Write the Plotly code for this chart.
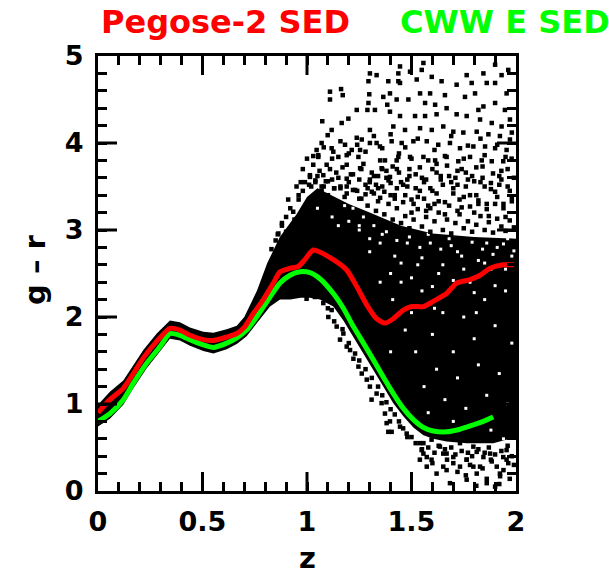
import plotly.graph_objects as go

# ---- model curves (z, g-r) ----
red_z = [0.0, 0.057, 0.121, 0.169, 0.217, 0.281, 0.344, 0.392, 0.44, 0.504, 0.552, 0.616, 0.664, 0.703,
         0.743, 0.791, 0.839, 0.871, 0.919, 0.958, 0.99, 1.03, 1.126, 1.19, 1.238, 1.286, 1.333, 1.373,
         1.413, 1.461, 1.501, 1.557, 1.604, 1.668, 1.716, 1.78, 1.828, 1.876, 1.939, 1.99]
red_gr = [0.90, 1.05, 1.18, 1.35, 1.53, 1.72, 1.87, 1.85, 1.79, 1.74, 1.73, 1.77, 1.81, 1.89,
          2.04, 2.20, 2.39, 2.52, 2.56, 2.58, 2.66, 2.77, 2.66, 2.54, 2.35, 2.14, 1.98, 1.93,
          1.98, 2.08, 2.12, 2.12, 2.18, 2.27, 2.39, 2.43, 2.48, 2.56, 2.60, 2.60]

green_z = [0.0, 0.057, 0.121, 0.169, 0.233, 0.297, 0.344, 0.392, 0.44, 0.504, 0.552, 0.616, 0.664, 0.711,
           0.759, 0.823, 0.871, 0.919, 0.967, 1.014, 1.062, 1.126, 1.174, 1.222, 1.27, 1.317, 1.365,
           1.413, 1.461, 1.509, 1.557, 1.604, 1.668, 1.732, 1.796, 1.844, 1.891]
green_gr = [0.80, 0.89, 1.05, 1.24, 1.47, 1.66, 1.81, 1.79, 1.74, 1.68, 1.65, 1.70, 1.76, 1.85,
            2.00, 2.23, 2.39, 2.48, 2.52, 2.51, 2.44, 2.27, 2.10, 1.89, 1.70, 1.51, 1.31,
            1.12, 0.95, 0.82, 0.73, 0.69, 0.68, 0.71, 0.76, 0.80, 0.85]

# ---- dense core of the galaxy cloud: upper and lower envelopes ----
core_up_z = [0.0, 0.057, 0.121, 0.169, 0.217, 0.281, 0.344, 0.392, 0.44, 0.504, 0.552, 0.616, 0.664,
             0.70, 0.76, 0.81, 0.87, 0.95, 1.0, 1.05, 1.1, 1.2, 1.3, 1.45, 1.6, 1.8, 2.0]
core_up_gr = [0.99, 1.14, 1.27, 1.44, 1.62, 1.81, 1.96, 1.94, 1.88, 1.83, 1.82, 1.86, 1.90,
              2.0, 2.3, 2.62, 2.92, 3.18, 3.38, 3.48, 3.42, 3.3, 3.2, 3.05, 2.96, 2.92, 2.9]
core_lo_z = [0.0, 0.057, 0.121, 0.169, 0.233, 0.297, 0.344, 0.392, 0.44, 0.504, 0.552, 0.616, 0.664,
             0.711, 0.759, 0.823, 0.871, 0.92, 0.97, 1.014, 1.062, 1.126, 1.174, 1.222, 1.27, 1.317,
             1.365, 1.413, 1.461, 1.509, 1.557, 1.604, 1.668, 1.764, 1.891, 2.0]
core_lo_gr = [0.74, 0.83, 0.99, 1.18, 1.41, 1.60, 1.75, 1.73, 1.67, 1.61, 1.58, 1.63, 1.69,
              1.78, 1.93, 2.12, 2.2, 2.2, 2.22, 2.22, 2.2, 2.12, 1.96, 1.77, 1.58, 1.39,
              1.2, 1.01, 0.86, 0.73, 0.64, 0.6, 0.57, 0.55, 0.55, 0.62]

# ---- individual galaxies outside the dense core ----
gal_z = [
    # upper sparse cloud, z 1.0 - 1.45
    1.110, 1.110, 1.163, 1.171, 1.298, 1.301, 1.333, 1.294, 1.389, 1.437, 1.365, 1.397, 1.294, 1.238,
    1.289, 1.325, 1.384, 1.397, 1.073, 1.166, 1.198, 1.301, 1.118, 1.099, 1.413, 1.070, 1.238, 1.262,
    1.301, 1.333, 1.349, 1.405, 1.046, 1.118, 1.126, 1.182, 1.214, 1.254, 1.054, 1.150, 1.190, 1.246,
    1.373, 1.429, 1.030, 1.094, 1.190, 1.254, 1.357, 1.014, 1.078, 1.190, 1.301, 1.397,
    # upper sparse cloud, z 1.43 - 2.0
    1.445, 1.437, 1.445, 1.493, 1.525, 1.557, 1.549, 1.597, 1.644, 1.541, 1.589, 1.660, 1.716, 1.764,
    1.788, 1.804, 1.844, 1.860, 1.900, 1.900, 1.931, 1.963, 1.955, 1.429, 1.485, 1.565, 1.613, 1.668,
    1.756, 1.820, 1.844, 1.900, 1.947, 1.971, 1.445, 1.517, 1.565, 1.620, 1.716, 1.764, 1.828, 1.884,
    1.931, 1.469, 1.541, 1.597, 1.652, 1.700, 1.748, 1.812, 1.868, 1.923, 1.971, 1.453, 1.509, 1.573,
    1.628, 1.684, 1.732, 1.796, 1.852, 1.900, 1.955, 1.437, 1.493, 1.557, 1.613, 1.668, 1.724, 1.780,
    1.836, 1.884, 1.939, 1.979,
    # transition band above the core
    1.43, 1.45, 1.47, 1.49, 1.51, 1.52, 1.54, 1.56, 1.57, 1.59, 1.60, 1.62, 1.63, 1.65, 1.67, 1.68,
    1.70, 1.71, 1.73, 1.74, 1.76, 1.78, 1.79, 1.81, 1.83, 1.84, 1.86, 1.88, 1.89, 1.91, 1.93, 1.94,
    1.96, 1.97, 1.99, 1.50, 1.58, 1.66, 1.75, 1.85, 1.95,
    1.04, 1.08, 1.12, 1.16, 1.20, 1.24, 1.28, 1.32, 1.36, 1.40, 1.14, 1.22, 1.34, 1.38, 1.26, 1.06,
    0.98, 0.96, 0.934, 0.90, 0.97, 1.014, 1.054, 0.863, 0.88,
    1.02, 1.05, 1.07, 1.09, 1.11, 1.13, 1.15, 1.17, 1.19, 1.21, 1.23, 1.25, 1.27, 1.29, 1.31, 1.33,
    1.35, 1.37, 1.39, 1.41, 1.43, 1.12, 1.20, 1.28, 1.36, 1.44, 1.03, 1.08, 1.16, 1.24, 1.32, 1.40,
    1.10, 1.18, 1.26, 1.34, 1.42,
    1.46, 1.48, 1.50, 1.53, 1.55, 1.57, 1.59, 1.61, 1.64, 1.66, 1.69, 1.72, 1.75, 1.77, 1.80, 1.82,
    1.85, 1.87, 1.90, 1.92, 1.95, 1.98, 1.47, 1.53, 1.61, 1.69, 1.77, 1.83, 1.91, 1.98, 1.49, 1.62,
    1.72, 1.81, 1.93,
    0.86, 0.88, 0.90, 0.92, 0.94, 0.96, 0.99, 0.91, 0.95, 0.98, 1.00, 0.83, 0.85,
    1.29, 1.31, 1.33, 1.35, 1.37, 1.39, 1.41, 1.43, 1.45, 1.47, 1.49, 1.51, 1.53, 1.55, 1.57, 1.59,
    1.61, 1.63, 1.65, 1.67, 1.69, 1.71, 1.73, 1.75, 1.77, 1.79, 1.81, 1.83, 1.85, 1.87, 1.89, 1.91,
    1.93, 1.95, 1.97, 1.99,
    1.30, 1.34, 1.38, 1.42, 1.46, 1.50, 1.54, 1.58, 1.62, 1.66, 1.70, 1.74, 1.78, 1.82, 1.86, 1.90,
    1.94, 1.98,
    1.32, 1.36, 1.40, 1.44, 1.48, 1.52, 1.56, 1.60, 1.64, 1.68, 1.72, 1.76, 1.80, 1.84, 1.88, 1.92,
    1.96,
    1.01, 1.04, 1.07, 1.10, 1.13, 1.16, 1.19, 1.22, 1.25, 1.28,
    # lower fringe
    0.998, 1.038, 1.078, 1.118, 1.102, 1.142, 1.174, 1.158, 1.206, 1.190, 1.222, 1.246, 1.262, 1.286,
    1.301, 1.333, 1.309, 1.357, 1.373, 1.397, 1.389, 1.445, 1.477, 1.541, 1.557, 1.596, 1.573, 1.652,
    1.700, 1.764, 1.828, 1.876, 1.923, 1.955, 1.668, 1.732, 1.796,
    1.381, 1.405, 1.549, 1.573, 1.596, 1.557, 1.636, 1.668, 1.700, 1.732, 1.764, 1.796, 1.812, 1.844,
    1.884, 1.908, 1.924, 1.955, 1.963, 1.764, 1.684, 1.860, 1.900, 1.939, 1.812, 1.732, 1.652,
    1.48, 1.52, 1.55, 1.58, 1.61, 1.63, 1.66, 1.69, 1.71, 1.74, 1.77, 1.79, 1.82, 1.85, 1.87, 1.90,
    1.93, 1.96, 1.98, 1.60, 1.67, 1.72, 1.78, 1.84, 1.88, 1.94, 1.99, 1.76, 1.86, 1.97, 1.62, 1.54,
    1.81, 1.92,
    1.10, 1.13, 1.17, 1.20, 1.23, 1.25, 1.28, 1.31, 1.34, 1.36, 1.38, 1.40, 1.42, 1.44, 1.46, 1.50,
]
gal_gr = [
    4.59, 4.50, 4.62, 4.55, 4.56, 4.80, 4.78, 4.71, 4.71, 4.71, 4.53, 4.57, 4.46, 4.38,
    4.38, 4.38, 4.44, 4.36, 4.25, 4.23, 4.28, 4.15, 4.15, 4.09, 4.19, 4.00, 4.06, 4.04,
    4.00, 4.00, 3.96, 4.02, 3.92, 3.94, 3.90, 3.98, 3.92, 3.92, 3.84, 3.84, 3.86, 3.84,
    3.80, 3.80, 3.75, 3.75, 3.75, 3.71, 3.71, 3.61, 3.63, 3.59, 3.58, 3.61,
    4.88, 4.80, 4.69, 4.82, 4.73, 4.92, 4.84, 4.76, 4.71, 4.57, 4.57, 4.55, 4.67, 4.78,
    4.69, 4.57, 4.80, 4.69, 4.69, 4.90, 4.78, 4.84, 4.57, 4.50, 4.50, 4.46, 4.44, 4.40,
    4.53, 4.38, 4.42, 4.46, 4.38, 4.27, 4.31, 4.31, 4.31, 4.33, 4.33, 4.31, 4.27, 4.23,
    4.19, 4.15, 4.17, 4.15, 4.19, 4.13, 4.12, 4.13, 4.10, 4.08, 4.04, 4.00, 4.02, 4.02,
    3.98, 4.00, 3.94, 3.96, 3.96, 3.94, 3.92, 3.84, 3.84, 3.84, 3.80, 3.84, 3.79, 3.84,
    3.80, 3.79, 3.79, 3.82,
    3.70, 3.55, 3.40, 3.62, 3.30, 3.48, 3.72, 3.36, 3.58, 3.25, 3.45, 3.66, 3.33, 3.52, 3.74, 3.28,
    3.42, 3.60, 3.35, 3.70, 3.50, 3.27, 3.62, 3.40, 3.55, 3.73, 3.30, 3.47, 3.65, 3.38, 3.58, 3.25,
    3.70, 3.45, 3.60, 3.82, 3.80, 3.85, 3.82, 3.86, 3.84,
    3.55, 3.50, 3.58, 3.48, 3.55, 3.45, 3.52, 3.42, 3.50, 3.40, 3.66, 3.64, 3.62, 3.68, 3.70, 3.68,
    3.45, 3.35, 3.21, 3.15, 3.55, 3.63, 3.86, 2.96, 3.05,
    3.50, 3.62, 3.45, 3.56, 3.70, 3.48, 3.60, 3.72, 3.50, 3.64, 3.46, 3.58, 3.76, 3.48, 3.66, 3.52,
    3.80, 3.44, 3.57, 3.73, 3.48, 3.82, 3.88, 3.90, 3.94, 3.88, 3.85, 3.95, 4.02, 3.98, 4.08, 4.10,
    3.40, 3.38, 3.36, 3.33, 3.36,
    3.32, 3.50, 3.20, 3.38, 3.60, 3.22, 3.48, 3.30, 3.62, 3.18, 3.55, 3.22, 3.38, 3.58, 3.20, 3.30,
    3.50, 3.16, 3.30, 3.52, 3.15, 3.33, 3.95, 4.05, 3.92, 4.08, 3.97, 4.05, 3.98, 4.12, 3.70, 3.76,
    3.68, 3.72, 3.68,
    2.95, 3.08, 2.98, 3.25, 3.12, 3.40, 3.55, 3.35, 3.50, 3.70, 3.82, 2.78, 2.88,
    3.28, 3.44, 3.22, 3.37, 3.18, 3.30, 3.12, 3.25, 3.08, 3.16, 3.02, 3.12, 3.24, 3.04, 3.15, 2.98,
    3.10, 3.20, 3.00, 3.12, 2.96, 3.08, 3.18, 3.02, 3.10, 2.98, 3.06, 3.16, 3.00, 3.09, 2.97, 3.13,
    3.04, 2.99, 3.11, 3.03,
    3.55, 3.48, 3.60, 3.40, 3.52, 3.35, 3.45, 3.28, 3.42, 3.32, 3.48, 3.26, 3.40, 3.34, 3.24, 3.44,
    3.30, 3.38,
    3.62, 3.70, 3.54, 3.66, 3.58, 3.64, 3.55, 3.70, 3.58, 3.62, 3.52, 3.66, 3.56, 3.60, 3.54, 3.62,
    3.50,
    3.52, 3.57, 3.50, 3.56, 3.48, 3.50, 3.42, 3.46, 3.36, 3.41,
    2.21, 2.23, 2.16, 2.08, 2.00, 1.89, 1.81, 1.74, 1.62, 1.66, 1.52, 1.43, 1.35, 1.28,
    1.20, 1.12, 1.05, 1.01, 0.89, 0.80, 0.68, 0.74, 0.66, 0.55, 0.43, 0.59, 0.28, 0.43,
    0.39, 0.36, 0.28, 0.43, 0.20, 0.36, 0.24, 0.59, 0.51,
    0.78, 0.68, 0.47, 0.39, 0.36, 0.55, 0.51, 0.43, 0.32, 0.55, 0.36, 0.28, 0.20, 0.39,
    0.34, 0.28, 0.17, 0.47, 0.32, 0.13, 0.09, 0.09, 0.05, 0.39, 0.45, 0.28, 0.28,
    0.62, 0.55, 0.48, 0.50, 0.44, 0.52, 0.48, 0.50, 0.42, 0.46, 0.44, 0.40, 0.48, 0.44, 0.50, 0.42,
    0.46, 0.52, 0.40, 0.32, 0.36, 0.22, 0.30, 0.26, 0.36, 0.24, 0.30, 0.18, 0.14, 0.14, 0.20, 0.36,
    0.06, 0.08,
    2.10, 1.95, 1.86, 1.70, 1.58, 1.50, 1.40, 1.30, 1.20, 1.10, 1.02, 0.94, 0.88, 0.80, 0.72, 0.62,
]

# ---- gaps (white specks) inside the dense core ----
gap_z = [1.30, 1.36, 1.42, 1.48, 1.53, 1.58, 1.63, 1.68, 1.72, 1.77, 1.82, 1.86, 1.91, 1.96, 1.45, 1.55,
         1.65, 1.75, 1.85, 1.95, 1.60, 1.70, 1.80, 1.90, 1.98, 1.62, 1.72, 1.82, 1.92, 1.66, 1.76, 1.86,
         1.96, 1.56, 1.52, 1.47, 1.40, 1.35, 1.25, 1.20, 1.15, 1.58, 1.88, 1.94, 1.70, 1.78, 1.68, 1.88,
         1.98, 1.50,
         1.22, 1.27, 1.32, 1.38, 1.43, 1.49, 1.54, 1.59, 1.64, 1.69, 1.74, 1.79, 1.84, 1.89, 1.94, 1.99,
         1.25, 1.35, 1.45, 1.55, 1.65, 1.75, 1.85, 1.95, 1.30, 1.40, 1.50, 1.60, 1.70, 1.80, 1.90, 1.41,
         1.61, 1.81, 1.05, 1.12, 1.18]
gap_gr = [2.90, 2.95, 2.70, 2.85, 2.60, 2.95, 2.50, 2.90, 2.75, 2.95, 2.65, 2.85, 2.80, 2.90, 2.40, 2.30,
          2.05, 2.00, 2.20, 2.30, 1.80, 1.60, 1.75, 1.90, 1.70, 1.40, 1.30, 1.45, 1.35, 1.05, 0.95, 1.10,
          1.00, 1.20, 1.60, 1.85, 1.60, 2.40, 3.00, 3.10, 3.05, 0.90, 0.70, 0.60, 0.80, 2.40, 2.30, 2.55,
          2.70, 2.05,
          3.25, 3.15, 3.05, 2.98, 2.88, 2.92, 2.80, 2.85, 2.78, 2.82, 2.70, 2.86, 2.78, 2.72, 2.84, 2.76,
          3.05, 2.85, 2.62, 2.68, 2.60, 2.55, 2.62, 2.55, 2.75, 2.50, 2.45, 2.35, 2.42, 2.28, 2.36, 2.20,
          2.10, 2.05, 3.25, 3.15, 3.28]

# ---- axis tick values ----
x_major = [0.5, 1.0, 1.5]
y_major = [1, 2, 3, 4]

FONT = "DejaVu Sans"
X_RANGE = [0, 2]
Y_RANGE = [0, 5]
MAJOR_LEN_X = 19 / 418   # fraction of plot width
MAJOR_LEN_Y = 19 / 435   # fraction of plot height

poly_z = core_up_z + core_lo_z[::-1]
poly_gr = core_up_gr + core_lo_gr[::-1]

fig = go.Figure()
fig.add_trace(go.Scatter(x=poly_z, y=poly_gr, mode="lines", fill="toself",
                         fillcolor="black", line=dict(width=0, color="black"),
                         hoverinfo="skip", showlegend=False))
fig.add_trace(go.Scatter(x=gap_z, y=gap_gr, mode="markers",
                         marker=dict(symbol="square", size=3, color="white", line=dict(width=0)),
                         showlegend=False))
fig.add_trace(go.Scatter(x=gal_z, y=gal_gr, mode="markers",
                         marker=dict(symbol="square", size=4.5, color="black", line=dict(width=0)),
                         showlegend=False))
fig.add_trace(go.Scatter(x=green_z, y=green_gr, mode="lines",
                         line=dict(color="#00ff00", width=5, shape="spline", smoothing=0.6),
                         showlegend=False))
fig.add_trace(go.Scatter(x=red_z, y=red_gr, mode="lines",
                         line=dict(color="#ff0000", width=5, shape="spline", smoothing=0.6),
                         showlegend=False))

TICKFONT = dict(family=FONT, size=27, color="black", weight="bold")
axis_common = dict(showgrid=False, zeroline=False, showline=True, linewidth=3, linecolor="black",
                   mirror="ticks", ticks="inside", tickwidth=3, tickcolor="black", ticklen=9,
                   showticklabels=True, tickfont=TICKFONT)

# long major tick marks drawn on all four sides, at the major tick values
tick_shapes = []
for v in x_major:
    tick_shapes.append(dict(type="line", xref="x", yref="paper", x0=v, x1=v, y0=0, y1=MAJOR_LEN_Y,
                            line=dict(color="black", width=3), layer="above"))
    tick_shapes.append(dict(type="line", xref="x", yref="paper", x0=v, x1=v, y0=1, y1=1 - MAJOR_LEN_Y,
                            line=dict(color="black", width=3), layer="above"))
for v in y_major:
    tick_shapes.append(dict(type="line", xref="paper", yref="y", x0=0, x1=MAJOR_LEN_X, y0=v, y1=v,
                            line=dict(color="black", width=3), layer="above"))
    tick_shapes.append(dict(type="line", xref="paper", yref="y", x0=1, x1=1 - MAJOR_LEN_X, y0=v, y1=v,
                            line=dict(color="black", width=3), layer="above"))

fig.update_layout(
    width=609, height=577,
    margin=dict(l=98, r=93, t=56, b=86),
    plot_bgcolor="white", paper_bgcolor="white",
    showlegend=False,
    xaxis=dict(range=X_RANGE, **axis_common),
    yaxis=dict(range=Y_RANGE, **axis_common),
    shapes=tick_shapes,
    annotations=[
        dict(text="Pegose-2 SED", x=0.306, y=1.078, xref="paper", yref="paper", showarrow=False,
             font=dict(family=FONT, size=32, color="#ff0000", weight="bold"),
             xanchor="center", yanchor="middle"),
        dict(text="CWW E SED", x=0.974, y=1.078, xref="paper", yref="paper", showarrow=False,
             font=dict(family=FONT, size=32, color="#00ff00", weight="bold"),
             xanchor="center", yanchor="middle"),
        dict(text="z", x=0.5, y=-0.155, xref="paper", yref="paper", showarrow=False,
             font=dict(family=FONT, size=29, color="black", weight="bold"),
             xanchor="center", yanchor="middle"),
        dict(text="g – r", x=-0.151, y=0.508, xref="paper", yref="paper", showarrow=False, textangle=-90,
             font=dict(family=FONT, size=29, color="black", weight="bold"),
             xanchor="center", yanchor="middle"),
    ],
)

# minor ticks every 0.1 / 0.2, labels only on the major values
fig.update_xaxes(tickvals=[i / 10 for i in range(21)],
                 ticktext=[("%g" % (i / 10)) if i % 5 == 0 else "" for i in range(21)],
                 tickmode="array", ticklabelstandoff=5)
fig.update_yaxes(tickvals=[i / 5 for i in range(26)],
                 ticktext=["%d" % (i // 5) if i % 5 == 0 else "" for i in range(26)],
                 tickmode="array", ticklabelstandoff=6)

fig.write_html("out.html")
